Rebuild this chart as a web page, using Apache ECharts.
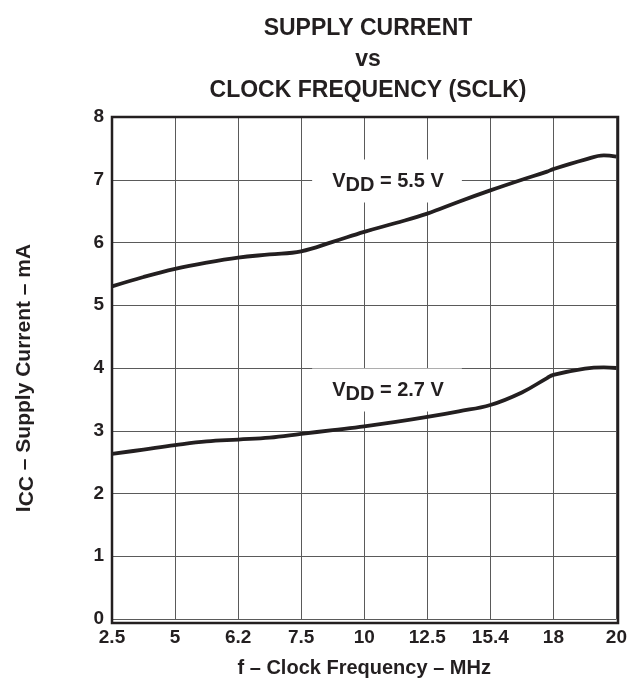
<!DOCTYPE html>
<html>
<head>
<meta charset="utf-8">
<script src="https://cdn.jsdelivr.net/npm/echarts@6/dist/echarts.min.js"></script>
<style>
html,body{margin:0;padding:0;background:#fff;}
#c{width:630px;height:683px;}
</style>
</head>
<body>
<div id="c"></div>
<script>
// Tick labels of the x axis (equally spaced positions 0..8)
var xTickLabels = ['2.5', '5', '6.2', '7.5', '10', '12.5', '15.4', '18', '20'];
// x positions (in tick-index units) where curve values were read
var xPos = [0, 0.5, 1, 1.5, 2, 2.5, 3, 3.5, 4, 4.5, 5, 5.5, 6, 6.5, 6.9, 7, 7.5, 7.8, 8];
// I_CC (mA) for VDD = 5.5 V
var icc55 = [5.30, 5.45, 5.58, 5.68, 5.76, 5.81, 5.86, 6.01, 6.17, 6.31, 6.46, 6.65, 6.83, 7.00, 7.13, 7.17, 7.32, 7.39, 7.37];
// I_CC (mA) for VDD = 2.7 V
var icc27 = [2.63, 2.70, 2.77, 2.83, 2.86, 2.89, 2.95, 3.01, 3.07, 3.14, 3.22, 3.31, 3.41, 3.61, 3.84, 3.89, 3.99, 4.01, 4.00];
var yTicks = [0, 1, 2, 3, 4, 5, 6, 7, 8];

function pairs(xs, ys) { return xs.map(function (x, i) { return [x, ys[i]]; }); }

var chart = echarts.init(document.getElementById('c'), null, {renderer: 'canvas'});
var FONT = 'Liberation Sans, Arial, Helvetica, sans-serif';
var INK = '#231f20';
function lbl(txt) {
  return {text: txt, align: 'center', verticalAlign: 'middle', backgroundColor: '#fff', padding: [7, 18, 7, 20],
    rich: {v: {fontFamily: FONT, fontWeight: 'bold', fontSize: 20, fill: INK},
           s: {fontFamily: FONT, fontWeight: 'bold', fontSize: 20, fill: INK, padding: [9, 0, 0, 0]}}};
}
var option = {
  backgroundColor: '#ffffff',
  animation: false,
  grid: {left: 112, right: 12, top: 117, bottom: 60, containLabel: false},
  xAxis: {
    type: 'value', min: 0, max: 8, interval: 1,
    name: 'f – Clock Frequency – MHz', nameLocation: 'middle', nameGap: 39,
    nameTextStyle: {fontFamily: FONT, fontWeight: 'bold', fontSize: 20, color: INK},
    axisLine: {show: false}, axisTick: {show: false},
    axisLabel: {formatter: function (v) { return xTickLabels[Math.round(v)]; }, fontFamily: FONT, fontWeight: 'bold', fontSize: 19, color: INK, margin: 9},
    splitLine: {show: true, lineStyle: {color: '#5a5a5a', width: 1}}
  },
  yAxis: {
    type: 'value', min: 0, max: 8, interval: 1,
    axisLine: {show: false}, axisTick: {show: false},
    axisLabel: {formatter: function (v) { return String(yTicks[Math.round(v)]); }, fontFamily: FONT, fontWeight: 'bold', fontSize: 19, color: INK, margin: 8},
    splitLine: {show: true, lineStyle: {color: '#5a5a5a', width: 1}}
  },
  title: {
    text: 'SUPPLY CURRENT\nvs\nCLOCK FREQUENCY (SCLK)',
    left: 363, top: 8, textAlign: 'center',
    textStyle: {fontFamily: FONT, fontWeight: 'bold', fontSize: 23, lineHeight: 31, color: INK}
  },
  series: [
    {type: 'line', data: pairs(xPos, icc55), smooth: 0.4, showSymbol: false, lineStyle: {color: INK, width: 3.8}, z: 5},
    {type: 'line', data: pairs(xPos, icc27), smooth: 0.4, showSymbol: false, lineStyle: {color: INK, width: 3.8}, z: 5}
  ],
  graphic: [
    {type: 'rect', shape: {x: 112, y: 117, width: 506, height: 506}, style: {fill: 'none', stroke: INK, lineWidth: 2.5}, z: 10},
    {type: 'text', x: 387, y: 181, z: 3, style: lbl('{v|V}{s|DD}{v| = 5.5 V}')},
    {type: 'text', x: 387, y: 390, z: 3, style: lbl('{v|V}{s|DD}{v| = 2.7 V}')},
    {type: 'text', x: 24, y: 378, rotation: Math.PI / 2, z: 3,
      style: {text: '{v|I}{s|CC}{v| – Supply Current – mA}', align: 'center', verticalAlign: 'middle',
        rich: {v: {fontFamily: FONT, fontWeight: 'bold', fontSize: 21, fill: INK},
               s: {fontFamily: FONT, fontWeight: 'bold', fontSize: 21, fill: INK, padding: [6, 0, 0, 0]}}}}
  ]
};
chart.setOption(option);
</script>
</body>
</html>
